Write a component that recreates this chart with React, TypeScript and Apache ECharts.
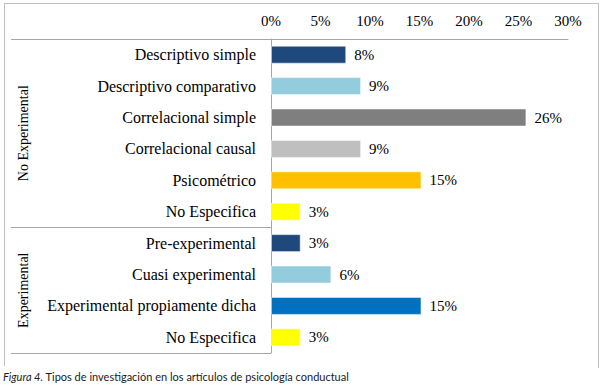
import React, { useEffect, useRef } from "react";
import * as echarts from "echarts";

const categories = [
  "Descriptivo simple",
  "Descriptivo comparativo",
  "Correlacional simple",
  "Correlacional causal",
  "Psicométrico",
  "No Especifica",
  "Pre-experimental",
  "Cuasi experimental",
  "Experimental propiamente dicha",
  "No Especifica",
];
const values = [7.6, 9.1, 25.8, 9.1, 15.2, 3.0, 3.0, 6.1, 15.2, 3.0];
const barColors = [
  "#1F497D",
  "#93CDDD",
  "#7F7F7F",
  "#BFBFBF",
  "#FFC000",
  "#FFFF00",
  "#1F497D",
  "#93CDDD",
  "#0070C0",
  "#FFFF00",
];
const groups = [
  { name: "No Experimental", count: 6 },
  { name: "Experimental", count: 4 },
];
const caption = "Tipos de investigación en los artículos de psicología conductual";
const captionLead = "Figura 4.";

const GRID_LEFT = 271;
const GRID_TOP = 39;
const GRID_W = 297;
const GRID_H = 314;
const LINE = "#A6A6A6";
const SERIF = "Liberation Serif";
const SANS = "Lato";

export default function App() {
  const ref = useRef<HTMLDivElement>(null);
  useEffect(() => {
    if (!ref.current) return;
    document.body.style.margin = "0";
    const chart = echarts.init(ref.current, undefined, { renderer: "svg" });
    const band = GRID_H / categories.length;
    const graphics: any[] = [];
    graphics.push(
      { type: "line", shape: { x1: 4, y1: 3.5, x2: 598, y2: 3.5 }, style: { stroke: "#BFBFBF", lineWidth: 1 } },
      { type: "line", shape: { x1: 4.5, y1: 3, x2: 4.5, y2: 366 }, style: { stroke: "#BFBFBF", lineWidth: 1 } },
      { type: "line", shape: { x1: 598.5, y1: 3, x2: 598.5, y2: 368 }, style: { stroke: "#BFBFBF", lineWidth: 1 } }
    );
    let start = 0;
    graphics.push({
      type: "line",
      shape: { x1: 11, y1: GRID_TOP + 0.5, x2: GRID_LEFT, y2: GRID_TOP + 0.5 },
      style: { stroke: LINE, lineWidth: 1 },
    });
    groups.forEach((g) => {
      const y0 = GRID_TOP + start * band;
      const y1 = GRID_TOP + (start + g.count) * band;
      graphics.push({
        type: "line",
        shape: { x1: 11, y1: Math.round(y1) + 0.5, x2: GRID_LEFT, y2: Math.round(y1) + 0.5 },
        style: { stroke: LINE, lineWidth: 1 },
      });
      graphics.push({
        type: "text",
        x: 23,
        y: (y0 + y1) / 2,
        rotation: Math.PI / 2,
        style: {
          text: g.name,
          fontFamily: SERIF,
          fontSize: 14,
          fill: "#000",
          align: "center",
          verticalAlign: "middle",
        },
      });
      start += g.count;
    });
    graphics.push({
      type: "text",
      x: 3,
      y: 376,
      style: {
        text: `{i|${captionLead}} ${caption}`,
        fontFamily: SANS,
        fontSize: 11,
        fill: "#1a1a1a",
        verticalAlign: "middle",
        rich: {
          i: { fontStyle: "italic", fontSize: 11, fontFamily: SANS, fill: "#1a1a1a" },
        },
      },
    });

    chart.setOption({
      animation: false,
      grid: { left: GRID_LEFT, top: GRID_TOP, width: GRID_W, height: GRID_H, containLabel: false },
      xAxis: {
        type: "value",
        position: "top",
        min: 0,
        max: 30,
        interval: 5,
        axisLine: { show: true, lineStyle: { color: LINE, width: 1 } },
        axisTick: { show: false },
        splitLine: { show: false },
        axisLabel: {
          formatter: "{value}%",
          fontFamily: SERIF,
          fontSize: 15,
          fontWeight: "normal",
          color: "#000",
          margin: 11,
        },
      },
      yAxis: {
        type: "category",
        inverse: true,
        data: categories,
        axisLine: { show: true, lineStyle: { color: LINE, width: 1 } },
        axisTick: { show: false },
        axisLabel: {
          fontFamily: SERIF,
          fontSize: 16,
          fontWeight: "normal",
          color: "#000",
          margin: 15,
        },
      },
      series: [
        {
          type: "bar",
          barWidth: 18,
          data: values.map((v, i) => ({
            value: v,
            itemStyle: { color: barColors[i], borderColor: "rgba(255,255,255,0.5)", borderWidth: 1 },
          })),
          label: {
            show: true,
            position: "right",
            distance: 8,
            fontFamily: SERIF,
            fontSize: 15,
            fontWeight: "normal",
            color: "#000",
            textBorderWidth: 0,
            formatter: (p: any) => `${Math.round(p.value)}%`,
          },
        },
      ],
      graphic: graphics,
    });
    return () => chart.dispose();
  }, []);
  return <div ref={ref} style={{ width: 601, height: 387 }} />;
}
